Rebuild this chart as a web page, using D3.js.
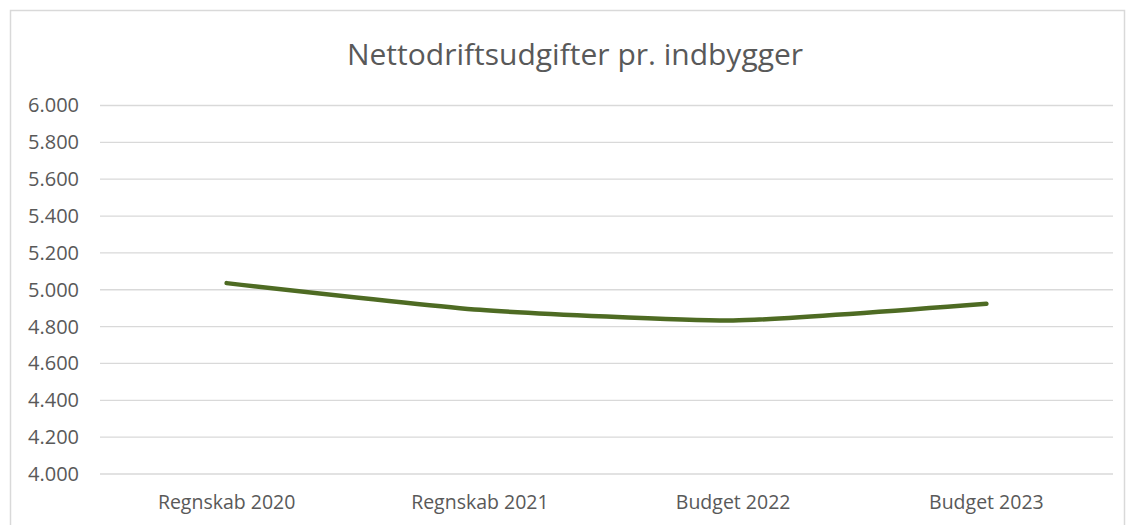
<!DOCTYPE html>
<html>
<head>
<meta charset="utf-8">
<script src="https://cdn.jsdelivr.net/npm/d3@7"></script>
<style>
  body { margin: 0; background: #fff; }
  text { font-family: "Open Sans", sans-serif; fill: #595959; }
</style>
</head>
<body>
<div id="chart"></div>
<script>
// data
var categories = ["Regnskab 2020", "Regnskab 2021", "Budget 2022", "Budget 2023"];
var values = [5036, 4891, 4833, 4924];
var yTicks = [4000, 4200, 4400, 4600, 4800, 5000, 5200, 5400, 5600, 5800, 6000];
var title = "Nettodriftsudgifter pr. indbygger";

var svgWidth = 1128;
var svgHeight = 525;

var margin = { top: 105.5, right: 15, bottom: 51, left: 100 };
var chartWidth = svgWidth - margin.left - margin.right;
var chartHeight = svgHeight - margin.top - margin.bottom;

var svg = d3.select("#chart")
  .append("svg")
  .attr("width", svgWidth)
  .attr("height", svgHeight);

// chart frame
svg.append("rect")
  .attr("x", 10.5)
  .attr("y", 10.5)
  .attr("width", 1114)
  .attr("height", 525)
  .attr("fill", "none")
  .attr("stroke", "#d9d9d9")
  .attr("stroke-width", 1.5);

svg.append("text")
  .attr("x", 575)
  .attr("y", 65)
  .attr("text-anchor", "middle")
  .style("font-size", "30px")
  .text(title);

var chartGroup = svg.append("g")
  .attr("transform", "translate(" + margin.left + ", " + margin.top + ")");

var xBandScale = d3.scaleBand().domain(categories).range([0, chartWidth]);
var yLinearScale = d3.scaleLinear().domain([4000, 6000]).range([chartHeight, 0]);

var fmt = function (d) { return d3.format(",")(d).replace(/,/g, "."); };

// gridlines
chartGroup.selectAll(".grid")
  .data(yTicks)
  .enter()
  .append("line")
  .attr("x1", 0)
  .attr("x2", chartWidth)
  .attr("y1", function (d) { return yLinearScale(d); })
  .attr("y2", function (d) { return yLinearScale(d); })
  .attr("stroke", "#d9d9d9")
  .attr("stroke-width", 1.3);

var leftAxis = d3.axisLeft(yLinearScale).tickValues(yTicks).tickFormat(fmt).tickSize(0).tickPadding(21);
var yAxis = chartGroup.append("g").call(leftAxis);
yAxis.select(".domain").remove();
yAxis.selectAll("text").style("font-size", "20px").style("fill", "#595959");

var bottomAxis = d3.axisBottom(xBandScale).tickSize(0).tickPadding(21);
var xAxis = chartGroup.append("g")
  .attr("transform", "translate(0, " + chartHeight + ")")
  .call(bottomAxis);
xAxis.select(".domain").remove();
xAxis.selectAll("text").style("font-size", "19.5px").style("fill", "#595959");

var line = d3.line()
  .x(function (d, i) { return xBandScale(categories[i]) + xBandScale.bandwidth() / 2; })
  .y(function (d) { return yLinearScale(d); })
  .curve(d3.curveCardinal.tension(0.5));

chartGroup.append("path")
  .datum(values)
  .attr("d", line)
  .attr("fill", "none")
  .attr("stroke", "#4e6b23")
  .attr("stroke-width", 4.5)
  .attr("stroke-linecap", "round");
</script>
</body>
</html>
